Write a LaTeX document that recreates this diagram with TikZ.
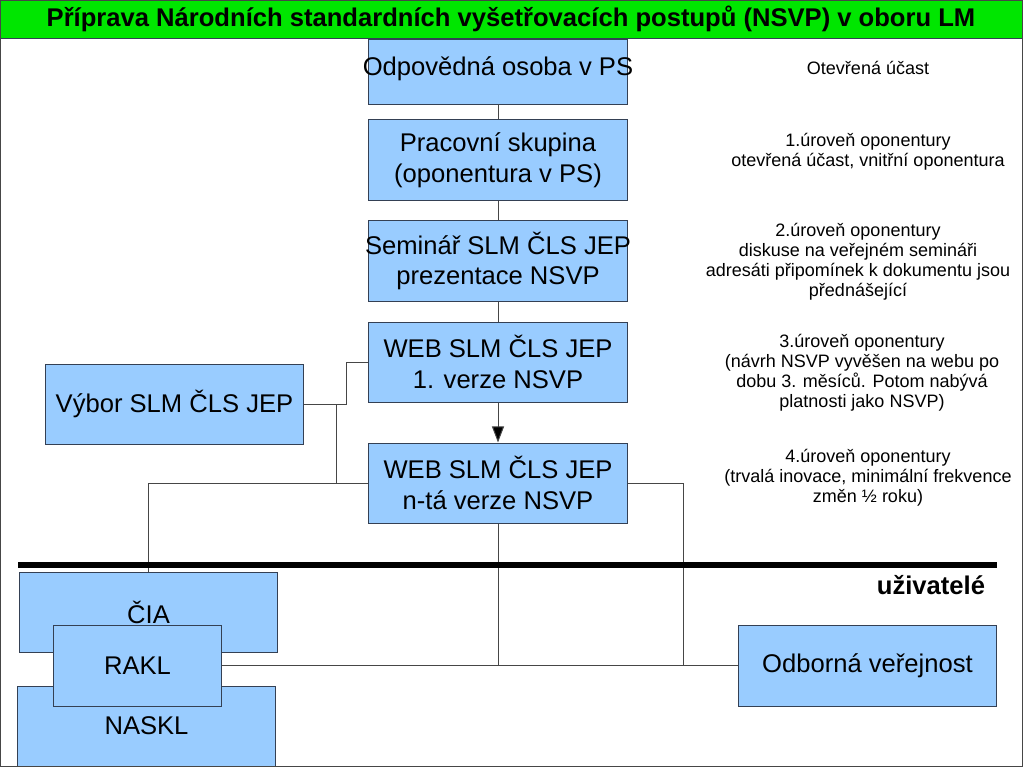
\documentclass[tikz,border=0pt]{standalone}
\usepackage{fontspec}
\setmainfont{Liberation Sans}
\usepackage{tikz}
\usetikzlibrary{arrows.meta}
\definecolor{boxblue}{RGB}{153,204,255}
\definecolor{boxedge}{RGB}{52,64,84}
\definecolor{titlegreen}{RGB}{0,230,0}
\definecolor{linkgray}{RGB}{70,70,70}
\tikzstyle{stage} = [rectangle, minimum width=6.45cm, minimum height=2cm, inner xsep=-0.25cm, inner ysep=0pt, align=center, draw=boxedge, fill=boxblue, line width=0.7pt, font=\fontsize{18.2}{22}\selectfont]
\tikzstyle{user} = [stage, minimum height=2.025cm]
\tikzstyle{note} = [align=center, font=\fontsize{12.8}{14.2}\selectfont]
\tikzstyle{link} = [draw=linkgray, line width=0.7pt]
\tikzstyle{arrow} = [link, -{Triangle[length=0.4cm, width=0.3cm, fill=black]}]

\begin{document}
\begin{tikzpicture}[x=0.025cm, y=-0.025cm]
    \useasboundingbox (0,0) rectangle (1024,768);
    \node (title) [rectangle, minimum width=25.55cm, minimum height=0.95cm, draw=boxedge, fill=titlegreen, font=\fontsize{18.2}{22}\selectfont\bfseries] at (511,19) {Příprava Národních standardních vyšetřovacích postupů (NSVP) v oboru LM};

    \node (odp) [stage, minimum height=1.6cm, text depth=0.31cm] at (498,72) {Odpovědná osoba v PS};
    \node (prac) [stage] at (498,160) {Pracovní skupina\\(oponentura v PS)};
    \node (sem) [stage] at (498,261) {Seminář SLM ČLS JEP\\prezentace NSVP};
    \node (web1) [stage] at (498,362) {WEB SLM ČLS JEP\\1. verze NSVP};
    \node (webn) [stage] at (498,483) {WEB SLM ČLS JEP\\n-tá verze NSVP};
    \node (vybor) [stage] at (174.5,404) {Výbor SLM ČLS JEP};

    \node (cia) [stage] at (148.5,612) {ČIA};
    \node (naskl) [stage] at (146.5,726) {NASKL};
    \node (rakl) [user, minimum width=4.175cm] at (137.5,665.5) {RAKL};
    \node (odb) [user] at (867.5,665.5) {Odborná veřejnost};

    \node (n0) [note] at (868,68) {Otevřená účast};
    \node (n1) [note] at (868,152) {1.úroveň oponentury\\otevřená účast, vnitřní oponentura};
    \node (n2) [note] at (858,262) {2.úroveň oponentury\\diskuse na veřejném semináři\\adresáti připomínek k dokumentu jsou\\přednášející};
    \node (n3) [note] at (862,373) {3.úroveň oponentury\\(návrh NSVP vyvěšen na webu po\\dobu 3. měsíců. Potom nabývá\\platnosti jako NSVP)};
    \node (n4) [note] at (868,478) {4.úroveň oponentury\\(trvalá inovace, minimální frekvence\\změn ½ roku)};
    \node (users) [anchor=east, font=\fontsize{18.2}{22}\selectfont\bfseries] at (990,585) {uživatelé};

    \draw [link] (odp) -- (prac);
    \draw [link] (prac) -- (sem);
    \draw [link] (sem) -- (web1);
    \draw [arrow] (web1) -- (webn);
    \draw [link] (vybor.east) -- ++(42,0) |- (web1.west);
    \draw [link] (vybor.east) -- ++(32,0) |- (webn.west);
    \draw [link] (webn.west) -| (cia.north);
    \draw [link] (webn.east) -- ++(56,0) |- (odb.west);
    \draw [link] (rakl.east) -- (odb.west);
    \draw [link] (webn.south) -- (webn.south |- rakl.east);

    \draw [line width=0.15cm] (18,565) -- (997,565);
    \draw [linkgray, line width=0.5pt] (0,0) rectangle (1022,766);
\end{tikzpicture}
\end{document}
